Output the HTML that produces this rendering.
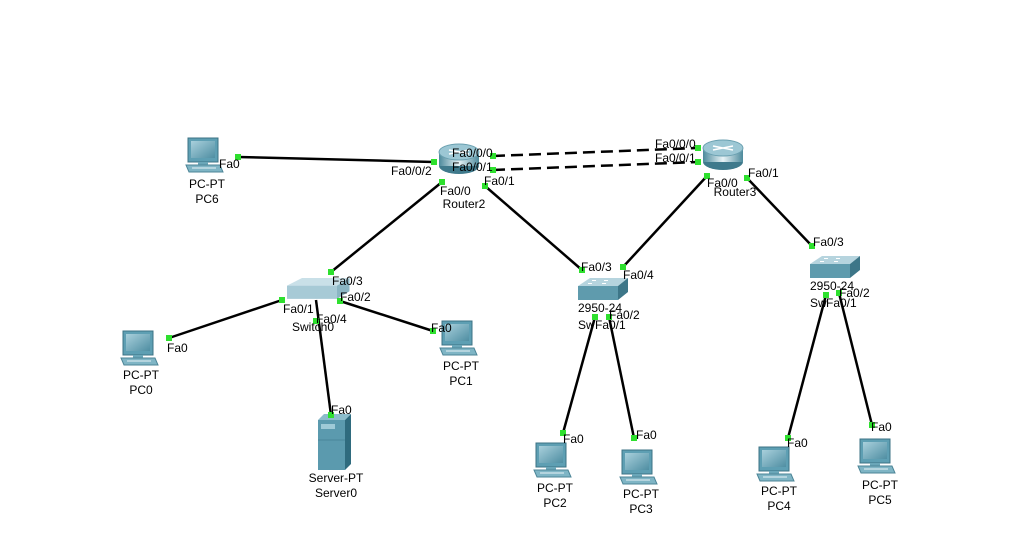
<!DOCTYPE html>
<html><head><meta charset="utf-8"><style>
html,body{margin:0;padding:0;background:#fff}
svg{display:block}
text{font-family:"Liberation Sans",sans-serif;font-size:12px;fill:#000}
.p{font-family:"Liberation Mono","DejaVu Sans Mono",monospace;font-size:12px}
.l{stroke:#000;stroke-width:2.5;fill:none}
.d{fill:#2ee02e}
</style></head><body>
<svg width="1017" height="560" viewBox="0 0 1017 560" xmlns="http://www.w3.org/2000/svg">
<defs>
<linearGradient id="mon" x1="0" y1="0" x2="1" y2="1"><stop offset="0" stop-color="#a9d0dc"/><stop offset="1" stop-color="#4f8ea2"/></linearGradient>
<linearGradient id="rt" x1="0" y1="0" x2="1" y2="0"><stop offset="0" stop-color="#4d8a9c"/><stop offset=".5" stop-color="#e8f3f6"/><stop offset="1" stop-color="#4d8a9c"/></linearGradient>
<g id="pc">
<rect x="2" y="0" width="30" height="24" fill="#5e9fb3" stroke="#3c7384"/>
<rect x="5" y="3" width="24" height="17" fill="url(#mon)"/>
<rect x="12" y="24" width="10" height="3" fill="#6aa6b8"/>
<polygon points="0,27 34,27 37,34 3,34" fill="#7fb5c5" stroke="#4c8597"/>
<line x1="6" y1="30" x2="30" y2="30" stroke="#e8f3f6"/>
</g>
<g id="sw">
<polygon points="0,8 12,0 50,0 40,8" fill="#b6d4de"/>
<polygon points="0,8 40,8 40,22 0,22" fill="#5f9bad"/>
<polygon points="40,8 50,0 50,14 40,22" fill="#3d7688"/>
<g fill="#fff"><rect x="14" y="2" width="4" height="1"/><rect x="26" y="2" width="4" height="1"/><rect x="10" y="5" width="4" height="1"/><rect x="24" y="5" width="4" height="1"/></g>
</g>
<g id="rtr">
<ellipse cx="20" cy="24" rx="20" ry="8" fill="#3f7a8c"/>
<rect x="0" y="10" width="40" height="14" fill="url(#rt)"/>
<ellipse cx="20" cy="10" rx="20" ry="8" fill="#9cc7d4" stroke="#6aa0b0"/>
<path d="M10 8 L30 12 M10 12 L30 8" stroke="#fff" stroke-width="1.5"/>
</g>
</defs>

<!-- links -->
<line class="l" x1="238" y1="157" x2="434" y2="162"/>
<line class="l" x1="493" y1="156" x2="698" y2="148" stroke-dasharray="12,6"/>
<line class="l" x1="493" y1="170" x2="698" y2="162" stroke-dasharray="12,6"/>
<line class="l" x1="442" y1="182" x2="331" y2="272"/>
<line class="l" x1="485" y1="186" x2="582" y2="270"/>
<line class="l" x1="707" y1="176" x2="623" y2="267"/>
<line class="l" x1="747" y1="178" x2="812" y2="246"/>
<line class="l" x1="282" y1="300" x2="169" y2="338"/>
<line class="l" x1="340" y1="301" x2="433" y2="331"/>
<line class="l" x1="316" y1="300" x2="331" y2="415"/>
<line class="l" x1="595" y1="317" x2="563" y2="433"/>
<line class="l" x1="609" y1="317" x2="634" y2="438"/>
<line class="l" x1="826" y1="295" x2="788" y2="438"/>
<line class="l" x1="839" y1="293" x2="872" y2="425"/>

<!-- devices -->
<use href="#pc" x="186" y="138"/>
<use href="#pc" x="121" y="331"/>
<use href="#pc" x="440" y="321"/>
<use href="#pc" x="534" y="443"/>
<use href="#pc" x="620" y="450"/>
<use href="#pc" x="757" y="447"/>
<use href="#pc" x="858" y="439"/>
<use href="#rtr" x="439" y="142"/>
<use href="#rtr" x="703" y="138"/>
<g transform="translate(287,278) scale(1.25,0.95)"><polygon points="0,8 12,0 50,0 40,8" fill="#c9e0e8"/><polygon points="0,8 40,8 40,22 0,22" fill="#a7cad6"/><polygon points="40,8 50,0 50,14 40,22" fill="#8ab5c3"/></g>
<use href="#sw" x="578" y="278"/>
<use href="#sw" x="810" y="256"/>
<g>
<polygon points="318,420 345,420 351,414 324,414" fill="#8cbccb"/>
<rect x="318" y="420" width="27" height="50" fill="#5b9aae"/>
<polygon points="345,420 351,414 351,464 345,470" fill="#2f6b7e"/>
<rect x="321" y="424" width="14" height="5" fill="#9fcad7"/>
<line x1="318" y1="440" x2="345" y2="440" stroke="#4a8699"/>
</g>

<!-- green endpoints -->
<g class="d">
<rect x="235" y="154" width="6" height="6"/><rect x="431" y="159" width="6" height="6"/>
<rect x="490" y="153" width="6" height="6"/><rect x="490" y="167" width="6" height="6"/>
<rect x="695" y="145" width="6" height="6"/><rect x="695" y="159" width="6" height="6"/>
<rect x="439" y="179" width="6" height="6"/><rect x="482" y="183" width="6" height="6"/>
<rect x="704" y="173" width="6" height="6"/><rect x="744" y="175" width="6" height="6"/>
<rect x="328" y="269" width="6" height="6"/><rect x="579" y="267" width="6" height="6"/>
<rect x="620" y="264" width="6" height="6"/><rect x="809" y="243" width="6" height="6"/>
<rect x="279" y="297" width="6" height="6"/><rect x="337" y="298" width="6" height="6"/>
<rect x="313" y="318" width="6" height="6"/>
<rect x="166" y="335" width="6" height="6"/><rect x="430" y="328" width="6" height="6"/>
<rect x="328" y="412" width="6" height="6"/>
<rect x="592" y="314" width="6" height="6"/><rect x="606" y="314" width="6" height="6"/>
<rect x="560" y="430" width="6" height="6"/><rect x="631" y="435" width="6" height="6"/>
<rect x="823" y="292" width="6" height="6"/><rect x="836" y="290" width="6" height="6"/>
<rect x="785" y="435" width="6" height="6"/><rect x="869" y="422" width="6" height="6"/>
</g>

<!-- port labels -->
<g class="p">
<text x="219" y="168">Fa0</text>
<text x="391" y="175">Fa0/0/2</text>
<text x="452" y="157">Fa0/0/0</text>
<text x="452" y="171">Fa0/0/1</text>
<text x="440" y="195">Fa0/0</text>
<text x="484" y="185">Fa0/1</text>
<text x="655" y="148">Fa0/0/0</text>
<text x="655" y="162">Fa0/0/1</text>
<text x="707" y="187">Fa0/0</text>
<text x="748" y="177">Fa0/1</text>
<text x="332" y="285">Fa0/3</text>
<text x="340" y="301">Fa0/2</text>
<text x="283" y="313">Fa0/1</text>
<text x="316" y="323">Fa0/4</text>
<text x="167" y="352">Fa0</text>
<text x="431" y="332">Fa0</text>
<text x="331" y="414">Fa0</text>
<text x="581" y="271">Fa0/3</text>
<text x="623" y="279">Fa0/4</text>
<text x="609" y="319">Fa0/2</text>
<text x="595" y="329">Fa0/1</text>
<text x="563" y="443">Fa0</text>
<text x="636" y="439">Fa0</text>
<text x="813" y="246">Fa0/3</text>
<text x="839" y="297">Fa0/2</text>
<text x="826" y="307">Fa0/1</text>
<text x="787" y="447">Fa0</text>
<text x="871" y="431">Fa0</text>
</g>

<!-- device labels -->
<g text-anchor="middle">
<text x="207" y="188">PC-PT</text><text x="207" y="203">PC6</text>
<text x="141" y="379">PC-PT</text><text x="141" y="394">PC0</text>
<text x="461" y="370">PC-PT</text><text x="461" y="385">PC1</text>
<text x="336" y="482">Server-PT</text><text x="336" y="497">Server0</text>
<text x="555" y="492">PC-PT</text><text x="555" y="507">PC2</text>
<text x="641" y="498">PC-PT</text><text x="641" y="513">PC3</text>
<text x="779" y="495">PC-PT</text><text x="779" y="510">PC4</text>
<text x="880" y="489">PC-PT</text><text x="880" y="504">PC5</text>
<text x="464" y="208">Router2</text>
<text x="735" y="196">Router3</text>
<text x="313" y="331">Switch0</text>
<text x="600" y="312">2950-24</text>
<text x="832" y="290">2950-24</text>
</g>
<text x="578" y="329">Sw</text>
<text x="810" y="307">Sw</text>
</svg>
</body></html>
